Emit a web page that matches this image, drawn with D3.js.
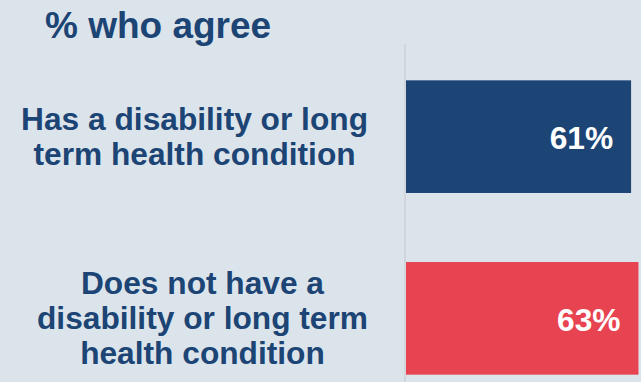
<!DOCTYPE html>
<html>
<head>
<meta charset="utf-8">
<script src="https://cdn.jsdelivr.net/npm/d3@7"></script>
<style>
  html, body { margin: 0; padding: 0; background: #dbe4eb; }
  svg { display: block; }
  text { font-family: "Liberation Sans", Arial, sans-serif; font-weight: bold; }
</style>
</head>
<body>
<svg id="chart" width="641" height="382"></svg>
<script>
// Survey result: share who agree, by disability status
const categories = [
  "Has a disability or long term health condition",
  "Does not have a disability or long term health condition"
];
const values = [61, 63];
const barColors = ["#1c4474", "#e84351"];
const title = "% who agree";

const W = 641, H = 382;
const navy = "#1c4474";

const svg = d3.select("#chart");

svg.append("rect").attr("width", W).attr("height", H).attr("fill", "#dbe4eb");

const x = d3.scaleLinear().domain([0, 100]).range([406, 775]);
const y = d3.scaleBand()
  .domain(categories)
  .range([44, 411])
  .paddingInner(0.38)
  .paddingOuter(0.2);

// title
svg.append("text")
  .attr("x", 45)
  .attr("y", 38)
  .attr("font-size", 37)
  .attr("fill", navy)
  .text(title);

// vertical baseline
svg.append("line")
  .attr("x1", x(0) - 1).attr("x2", x(0) - 1)
  .attr("y1", 44).attr("y2", H)
  .attr("stroke", "#d2d6db")
  .attr("stroke-width", 2);

// bars
svg.selectAll("rect.bar")
  .data(categories)
  .join("rect")
  .attr("class", "bar")
  .attr("x", x(0))
  .attr("y", d => y(d))
  .attr("width", (d, i) => x(values[i]) - x(0))
  .attr("height", y.bandwidth())
  .attr("fill", (d, i) => barColors[i]);

// value labels inside bar ends
svg.selectAll("text.val")
  .data(categories)
  .join("text")
  .attr("class", "val")
  .attr("x", (d, i) => x(values[i]) - 18)
  .attr("y", d => y(d) + y.bandwidth() / 2)
  .attr("dy", "0.4em")
  .attr("text-anchor", "end")
  .attr("font-size", 31.7)
  .attr("fill", "#ffffff")
  .text((d, i) => values[i] + "%");

// category labels: wrapped, block right-aligned to the axis gap, lines centred in the block
const labelFont = 31.7, lineH = 35, maxW = 360, labelRight = 368;
const measure = svg.append("text").attr("font-size", labelFont).attr("visibility", "hidden");
function textWidth(s) {
  measure.text(s);
  return measure.node().getComputedTextLength();
}
function wrap(str) {
  const words = str.split(" ");
  const lines = [];
  let cur = "";
  words.forEach(w => {
    const test = cur ? cur + " " + w : w;
    if (textWidth(test) > maxW && cur) {
      lines.push(cur);
      cur = w;
    } else {
      cur = test;
    }
  });
  if (cur) lines.push(cur);
  return lines;
}

categories.forEach(cat => {
  const lines = wrap(cat);
  const blockW = d3.max(lines, textWidth);
  const cx = labelRight - blockW / 2;
  const cy = y(cat) + y.bandwidth() / 2;
  const t = svg.append("text")
    .attr("font-size", labelFont)
    .attr("fill", navy)
    .attr("text-anchor", "middle");
  lines.forEach((ln, k) => {
    t.append("tspan")
      .attr("x", cx)
      .attr("y", cy + (k - (lines.length - 1) / 2) * lineH)
      .attr("dy", "0.35em")
      .text(ln);
  });
});
measure.remove();
</script>
</body>
</html>
